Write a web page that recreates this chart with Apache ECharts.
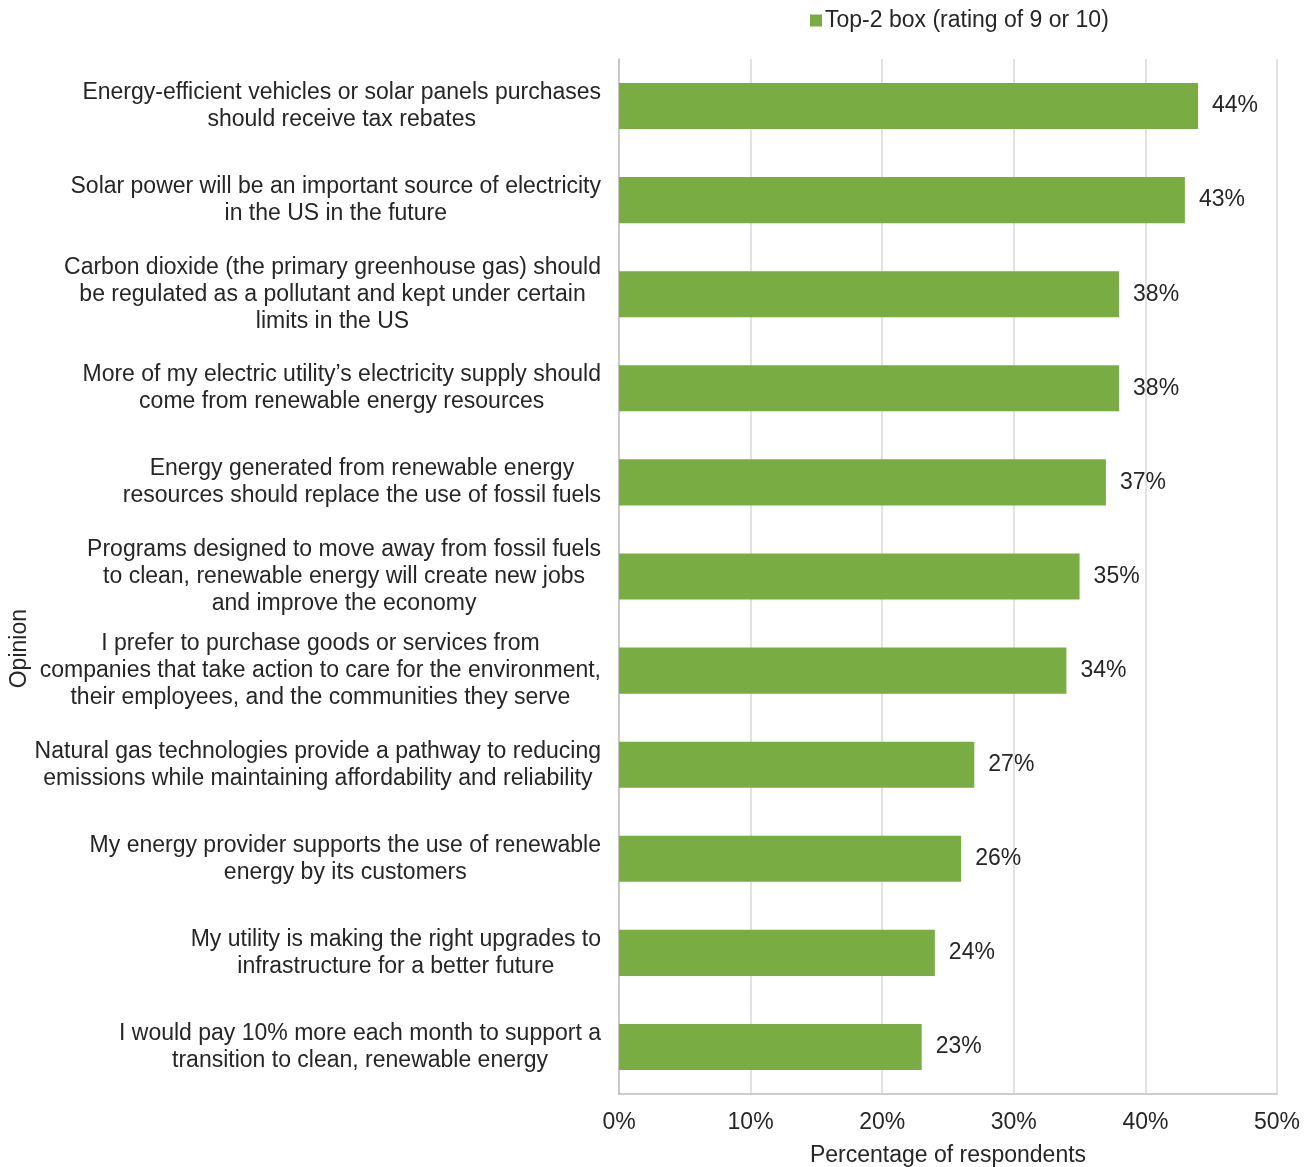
<!DOCTYPE html>
<html><head><meta charset="utf-8">
<script src="https://cdn.jsdelivr.net/npm/echarts@6/dist/echarts.min.js"></script>
<style>html,body{margin:0;padding:0;background:#fff}#c{width:1313px;height:1167px}</style>
</head><body><div id="c"></div>
<script>
const categories = [
  "Energy-efficient vehicles or solar panels purchases\nshould receive tax rebates",
  "Solar power will be an important source of electricity\nin the US in the future",
  "Carbon dioxide (the primary greenhouse gas) should\nbe regulated as a pollutant and kept under certain\nlimits in the US",
  "More of my electric utility\u2019s electricity supply should\ncome from renewable energy resources",
  "Energy generated from renewable energy\nresources should replace the use of fossil fuels",
  "Programs designed to move away from fossil fuels\nto clean, renewable energy will create new jobs\nand improve the economy",
  "I prefer to purchase goods or services from\ncompanies that take action to care for the environment,\ntheir employees, and the communities they serve",
  "Natural gas technologies provide a pathway to reducing\nemissions while maintaining affordability and reliability",
  "My energy provider supports the use of renewable\nenergy by its customers",
  "My utility is making the right upgrades to\ninfrastructure for a better future",
  "I would pay 10% more each month to support a\ntransition to clean, renewable energy"
];
const values = [44, 43, 38, 38, 37, 35, 34, 27, 26, 24, 23];
const seriesName = "Top-2 box (rating of 9 or 10)";
const xTicks = [0, 10, 20, 30, 40, 50];

const font = "Liberation Sans, Arial, sans-serif";
const fs = 23;
const textColor = "#262626";
const chart = echarts.init(document.getElementById('c'), null, {renderer: 'canvas'});
chart.setOption({
  animation: false,
  textStyle: {fontFamily: font},
  legend: {
    data: [seriesName], top: 4, left: 805,
    icon: 'rect', itemWidth: 12, itemHeight: 12, itemGap: 6,
    textStyle: {fontSize: fs, color: textColor, fontFamily: font, padding: [0, 0, 0, -2]}
  },
  grid: {left: 619, right: 36, top: 59, bottom: 73, containLabel: false, outerBoundsMode: 'none'},
  xAxis: {
    type: 'value', min: xTicks[0], max: xTicks[xTicks.length-1], interval: 10,
    name: 'Percentage of respondents', nameLocation: 'middle', nameGap: 50,
    nameTextStyle: {fontSize: fs, color: textColor, fontFamily: font},
    axisLine: {show: true, lineStyle: {color: '#bfbfbf', width: 1.5}},
    axisTick: {show: false},
    splitLine: {show: true, lineStyle: {color: '#d9d9d9', width: 1.5}},
    axisLabel: {formatter: v => v + '%', fontSize: fs, color: textColor, margin: 17, fontFamily: font}
  },
  yAxis: {
    type: 'category', data: categories, inverse: true,
    axisLine: {show: true, lineStyle: {color: '#bfbfbf', width: 1.5}},
    axisTick: {show: false},
    axisLabel: {
      formatter: v => v.split('\n').map(l => '{c|' + l + '}').join('\n'),
      fontSize: fs, lineHeight: 27, color: textColor, margin: 18, align: 'right', fontFamily: font,
      rich: {c: {align: 'center', fontSize: fs, lineHeight: 27, color: textColor, fontFamily: font}}
    }
  },
  graphic: [{
    type: 'text', left: 8, top: 609, rotation: Math.PI/2,
    style: {text: 'Opinion', fill: textColor, font: fs + 'px ' + font}
  }],
  series: [{
    name: seriesName, type: 'bar', data: values,
    barCategoryGap: '51%',
    itemStyle: {color: '#79ad43'},
    label: {show: true, position: 'right', distance: 14, formatter: p => p.value + '%',
            fontSize: fs, color: textColor, fontFamily: font}
  }]
});
</script></body></html>
